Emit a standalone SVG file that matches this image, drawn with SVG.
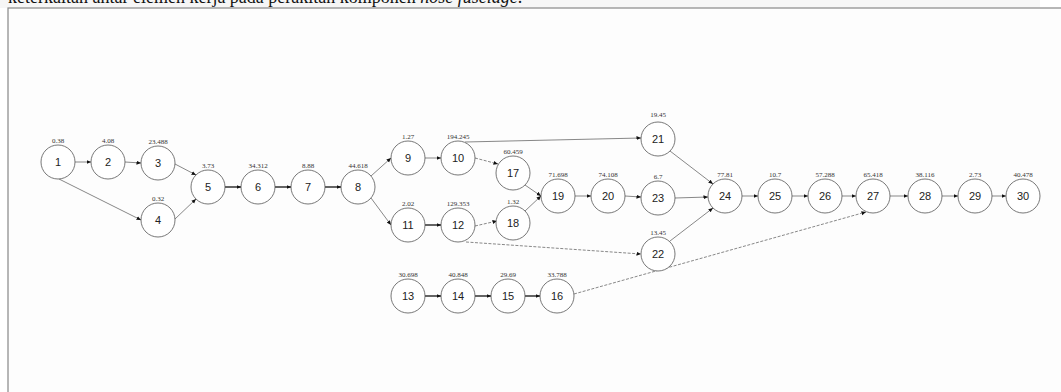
<svg xmlns="http://www.w3.org/2000/svg" width="1061" height="392" viewBox="0 0 1061 392">
<style>
.n circle{fill:#fff;stroke:#555;stroke-width:0.8}
.n .t{font-family:"Liberation Sans",Arial,sans-serif;font-size:11px;fill:#222;text-anchor:middle;dominant-baseline:central}
.n .v{font-family:"Liberation Serif","Times New Roman",serif;font-size:7px;fill:#333;text-anchor:middle}
.e line{stroke:#555;stroke-width:0.7;fill:none;marker-end:url(#ah)}
.e .b{stroke:#111;stroke-width:1.3}
.e .d{stroke-dasharray:3 1.5}
.cap{font-family:"Liberation Serif","Times New Roman",serif;font-size:18px;fill:#111}
</style>
<defs>
<marker id="ah" markerWidth="6" markerHeight="6" refX="4.5" refY="3" orient="auto" markerUnits="userSpaceOnUse">
<path d="M0,1 L4.5,3 L0,5 Z" fill="#111"/>
</marker>
</defs>
<rect x="0" y="0" width="1061" height="392" fill="#fff"/>
<rect x="0" y="0" width="1040" height="8" fill="#f6f6f6"/>
<text class="cap" x="8" y="3">keterkaitan antar elemen kerja pada perakitan komponen <tspan font-style="italic">nose fuselage</tspan>.</text>
<rect x="8" y="8" width="1060" height="390" fill="#fdfdfd" stroke="#888" stroke-width="1.2"/>
<g id="connectors" class="e">
<line x1="75" y1="162" x2="91" y2="162"/>
<line x1="125" y1="162" x2="141" y2="163"/>
<line x1="59" y1="179" x2="141" y2="220"/>
<line x1="175" y1="164" x2="196" y2="175"/>
<line x1="175" y1="219" x2="196" y2="199"/>
<line class="b" x1="225" y1="187" x2="241" y2="187"/>
<line class="b" x1="275" y1="187" x2="291" y2="187"/>
<line class="b" x1="325" y1="187" x2="341" y2="187"/>
<line x1="371" y1="176" x2="391" y2="158"/>
<line x1="371" y1="198" x2="391" y2="225"/>
<line x1="425" y1="158" x2="441" y2="158"/>
<line class="b" x1="425" y1="225" x2="441" y2="225"/>
<line class="d" x1="475" y1="158" x2="498" y2="164"/>
<line class="d" x1="475" y1="226" x2="497" y2="221"/>
<line x1="465" y1="142" x2="641" y2="138"/>
<line class="d" x1="466" y1="242" x2="641" y2="254"/>
<line x1="525" y1="185" x2="541" y2="196"/>
<line x1="525" y1="211" x2="541" y2="196"/>
<line x1="575" y1="196" x2="591" y2="196"/>
<line x1="625" y1="196" x2="641" y2="197"/>
<line x1="670" y1="151" x2="713" y2="184"/>
<line x1="675" y1="198" x2="708" y2="197"/>
<line x1="670" y1="241" x2="713" y2="208"/>
<line x1="742" y1="196" x2="758" y2="196"/>
<line x1="792" y1="196" x2="808" y2="196"/>
<line x1="842" y1="196" x2="856" y2="196"/>
<line class="d" x1="574" y1="294" x2="866" y2="212"/>
<line x1="890" y1="196" x2="908" y2="196"/>
<line x1="942" y1="196" x2="958" y2="196"/>
<line x1="992" y1="196" x2="1006" y2="196"/>
<line class="b" x1="425" y1="296" x2="441" y2="296"/>
<line class="b" x1="475" y1="296" x2="491" y2="296"/>
<line class="b" x1="525" y1="296" x2="540" y2="296"/>
</g>
<g id="n1" class="n"><circle cx="58" cy="162" r="17"/><text class="t" x="58" y="162">1</text><text class="v" x="58" y="143">0.38</text></g>
<g id="n2" class="n"><circle cx="108" cy="162" r="17"/><text class="t" x="108" y="162">2</text><text class="v" x="108" y="143">4.08</text></g>
<g id="n3" class="n"><circle cx="158" cy="163" r="17"/><text class="t" x="158" y="163">3</text><text class="v" x="158" y="144">23.488</text></g>
<g id="n4" class="n"><circle cx="158" cy="220" r="17"/><text class="t" x="158" y="220">4</text><text class="v" x="158" y="201">0.32</text></g>
<g id="n5" class="n"><circle cx="208" cy="187" r="17"/><text class="t" x="208" y="187">5</text><text class="v" x="208" y="168">3.73</text></g>
<g id="n6" class="n"><circle cx="258" cy="187" r="17"/><text class="t" x="258" y="187">6</text><text class="v" x="258" y="168">34.312</text></g>
<g id="n7" class="n"><circle cx="308" cy="187" r="17"/><text class="t" x="308" y="187">7</text><text class="v" x="308" y="168">8.88</text></g>
<g id="n8" class="n"><circle cx="358" cy="187" r="17"/><text class="t" x="358" y="187">8</text><text class="v" x="358" y="168">44.618</text></g>
<g id="n9" class="n"><circle cx="408" cy="158" r="17"/><text class="t" x="408" y="158">9</text><text class="v" x="408" y="139">1.27</text></g>
<g id="n10" class="n"><circle cx="458" cy="158" r="17"/><text class="t" x="458" y="158">10</text><text class="v" x="458" y="139">194.245</text></g>
<g id="n11" class="n"><circle cx="408" cy="225" r="17"/><text class="t" x="408" y="225">11</text><text class="v" x="408" y="206">2.02</text></g>
<g id="n12" class="n"><circle cx="458" cy="225" r="17"/><text class="t" x="458" y="225">12</text><text class="v" x="458" y="206">129.353</text></g>
<g id="n13" class="n"><circle cx="408" cy="296" r="17"/><text class="t" x="408" y="296">13</text><text class="v" x="408" y="277">30.698</text></g>
<g id="n14" class="n"><circle cx="458" cy="296" r="17"/><text class="t" x="458" y="296">14</text><text class="v" x="458" y="277">40.848</text></g>
<g id="n15" class="n"><circle cx="508" cy="296" r="17"/><text class="t" x="508" y="296">15</text><text class="v" x="508" y="277">29.69</text></g>
<g id="n16" class="n"><circle cx="557" cy="296" r="17"/><text class="t" x="557" y="296">16</text><text class="v" x="557" y="277">33.788</text></g>
<g id="n17" class="n"><circle cx="513" cy="173" r="17"/><text class="t" x="513" y="173">17</text><text class="v" x="513" y="154">60.459</text></g>
<g id="n18" class="n"><circle cx="513" cy="223" r="17"/><text class="t" x="513" y="223">18</text><text class="v" x="513" y="204">1.32</text></g>
<g id="n19" class="n"><circle cx="558" cy="196" r="17"/><text class="t" x="558" y="196">19</text><text class="v" x="558" y="177">71.698</text></g>
<g id="n20" class="n"><circle cx="608" cy="196" r="17"/><text class="t" x="608" y="196">20</text><text class="v" x="608" y="177">74.108</text></g>
<g id="n21" class="n"><circle cx="658" cy="139" r="17"/><text class="t" x="658" y="139">21</text><text class="v" x="658" y="117">19.45</text></g>
<g id="n22" class="n"><circle cx="658" cy="254" r="17"/><text class="t" x="658" y="254">22</text><text class="v" x="658" y="235">13.45</text></g>
<g id="n23" class="n"><circle cx="658" cy="198" r="17"/><text class="t" x="658" y="198">23</text><text class="v" x="658" y="179">6.7</text></g>
<g id="n24" class="n"><circle cx="725" cy="196" r="17"/><text class="t" x="725" y="196">24</text><text class="v" x="725" y="177">77.81</text></g>
<g id="n25" class="n"><circle cx="775" cy="196" r="17"/><text class="t" x="775" y="196">25</text><text class="v" x="775" y="177">10.7</text></g>
<g id="n26" class="n"><circle cx="825" cy="196" r="17"/><text class="t" x="825" y="196">26</text><text class="v" x="825" y="177">57.288</text></g>
<g id="n27" class="n"><circle cx="873" cy="196" r="17"/><text class="t" x="873" y="196">27</text><text class="v" x="873" y="177">65.418</text></g>
<g id="n28" class="n"><circle cx="925" cy="196" r="17"/><text class="t" x="925" y="196">28</text><text class="v" x="925" y="177">38.116</text></g>
<g id="n29" class="n"><circle cx="975" cy="196" r="17"/><text class="t" x="975" y="196">29</text><text class="v" x="975" y="177">2.73</text></g>
<g id="n30" class="n"><circle cx="1023" cy="196" r="17"/><text class="t" x="1023" y="196">30</text><text class="v" x="1023" y="177">40.478</text></g>
</svg>
